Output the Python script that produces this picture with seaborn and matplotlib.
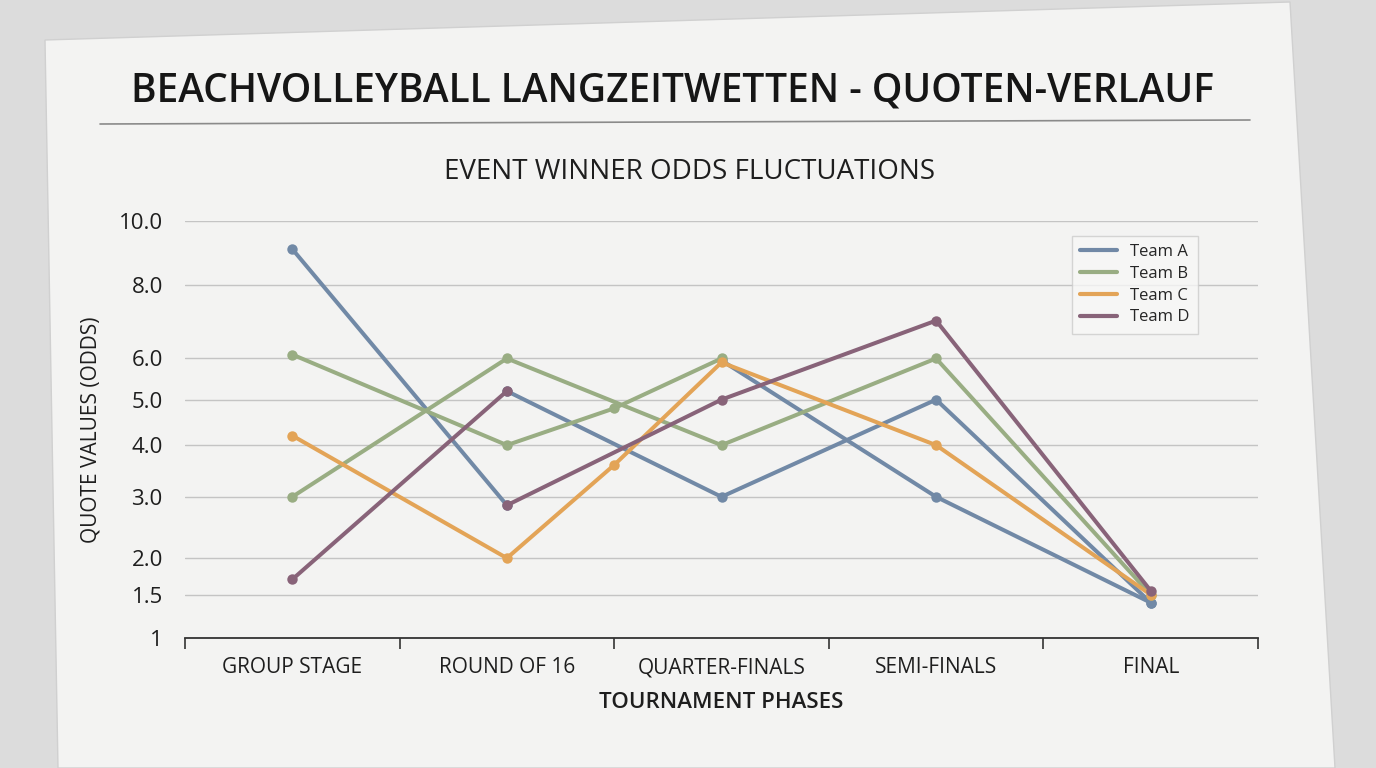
import numpy as np
import pandas as pd
import matplotlib
matplotlib.use("Agg")
import matplotlib.pyplot as plt
from matplotlib.patches import Polygon
from matplotlib.lines import Line2D
from matplotlib import font_manager
import seaborn as sns

W, H = 1376, 768

phases = ["GROUP STAGE", "ROUND OF 16", "QUARTER-FINALS", "SEMI-FINALS", "FINAL"]
y_ticks = [1, 1.5, 2, 3, 4, 5, 6, 8, 10]
y_tick_labels = ["1", "1.5", "2.0", "3.0", "4.0", "5.0", "6.0", "8.0", "10.0"]

# phase index on x (1.5 = extra point between round of 16 and quarter-finals)
# each team is drawn as one or more runs of (x, odds)
team_a_runs = [
    ([0, 1], [9.1, 2.85]),
    ([1, 2, 3, 4], [5.2, 3.0, 5.0, 1.4]),
    ([2, 3, 4], [5.95, 3.0, 1.4]),
]
team_b_runs = [
    ([0, 1, 1.5, 2], [6.1, 4.0, 4.8, 6.0]),
    ([0, 1, 2, 3, 4], [3.0, 6.0, 4.0, 6.0, 1.5]),
]
team_c_runs = [
    ([0, 1, 1.5, 2, 3, 4], [4.2, 2.0, 3.6, 5.9, 4.0, 1.5]),
]
team_d_runs = [
    ([0, 1], [1.7, 5.2]),
    ([1, 2, 3, 4], [2.85, 5.0, 7.0, 1.55]),
]

teams = ["Team A", "Team B", "Team C", "Team D"]
colors = ["#7189a6", "#99ad83", "#e3a457", "#886379"]

rows = []
run_id = 0
for team, runs in zip(teams, [team_a_runs, team_b_runs, team_c_runs, team_d_runs]):
    for xs, ys in runs:
        for x, y in zip(xs, ys):
            rows.append({"team": team, "run": run_id, "phase": x, "odds": y})
        run_id += 1
df = pd.DataFrame(rows)

sns.set_theme(style="white")
available = {f.name for f in font_manager.fontManager.ttflist}
main_font = "Liberation Sans Narrow" if "Liberation Sans Narrow" in available else "Open Sans"
plt.rcParams["font.family"] = [main_font, "DejaVu Sans"]
text_col = "#1e1e1e"

fig = plt.figure(figsize=(W / 100, H / 100), dpi=100)
fig.patch.set_facecolor("#dcdcdc")


def px(x, y):
    return x / W, 1 - y / H


# paper sheet
paper = Polygon(
    [px(45, 40), px(1290, 2), px(1335, 768), px(58, 768)],
    closed=True, transform=fig.transFigure,
    facecolor="#f3f3f2", edgecolor="#d0d0d0", lw=1, zorder=-5,
)
fig.patches.append(paper)

ax = fig.add_axes([185 / W, 1 - 638 / H, (1258 - 185) / W, (638 - 221) / H])
ax.set_facecolor("none")
ax.set_zorder(2)

sns.lineplot(
    data=df, x="phase", y="odds", hue="team", units="run",
    estimator=None, sort=False, hue_order=teams, palette=colors,
    marker="o", markersize=7.5, markeredgewidth=0, linewidth=2.9,
    legend=False, ax=ax,
)

ax.set_yscale("function", functions=(np.sqrt, np.square))
ax.set_ylim(1, 10)
ax.set_xlim(-0.5, 4.5)
ax.set_yticks(y_ticks)
ax.set_yticklabels(y_tick_labels)
ax.yaxis.set_minor_locator(matplotlib.ticker.NullLocator())
ax.set_xticks(range(len(phases)))
ax.set_xticklabels(phases)
ax.set_xticks(np.arange(-0.5, 4.6, 1), minor=True)

ax.tick_params(axis="y", length=0, pad=16, labelsize=16, labelcolor=text_col)
ax.tick_params(axis="x", which="major", bottom=False, length=0, pad=14, labelsize=15, labelcolor=text_col)
ax.tick_params(axis="x", which="minor", bottom=True, length=8, width=1.2, color="#333333", direction="out")

ax.grid(axis="y", color="#c4c4c4", lw=1)
ax.grid(axis="x", visible=False)
for side in ["top", "right", "left"]:
    ax.spines[side].set_visible(False)
ax.spines["bottom"].set_color("#333333")
ax.spines["bottom"].set_linewidth(1.3)

ax.set_xlabel("TOURNAMENT PHASES", fontsize=16, fontweight="semibold", color=text_col, labelpad=10)
ax.set_ylabel("QUOTE VALUES (ODDS)", fontsize=15, color=text_col, labelpad=12)

handles = [Line2D([], [], color=c, lw=3) for c in colors]
leg = ax.legend(
    handles, teams, loc="upper right", bbox_to_anchor=(0.952, 0.985),
    fontsize=12, frameon=True, fancybox=False, edgecolor="#cccccc",
    handlelength=2.2, borderpad=0.5, labelspacing=0.35,
)
leg.get_frame().set_facecolor("#f7f7f7")
leg.get_frame().set_linewidth(1)

fig.text(*px(672, 92), "BEACHVOLLEYBALL LANGZEITWETTEN - QUOTEN-VERLAUF",
         ha="center", va="center", fontsize=28, fontweight="semibold", color="#161616")
fig.add_artist(Line2D([100 / W, 1250 / W], [1 - 124 / H, 1 - 120 / H],
                      color="#8a8a8a", lw=1.2, transform=fig.transFigure))
fig.text(*px(690, 172), "EVENT WINNER ODDS FLUCTUATIONS",
         ha="center", va="center", fontsize=20, color=text_col)

fig.savefig("out.png", dpi=100, facecolor=fig.get_facecolor())
